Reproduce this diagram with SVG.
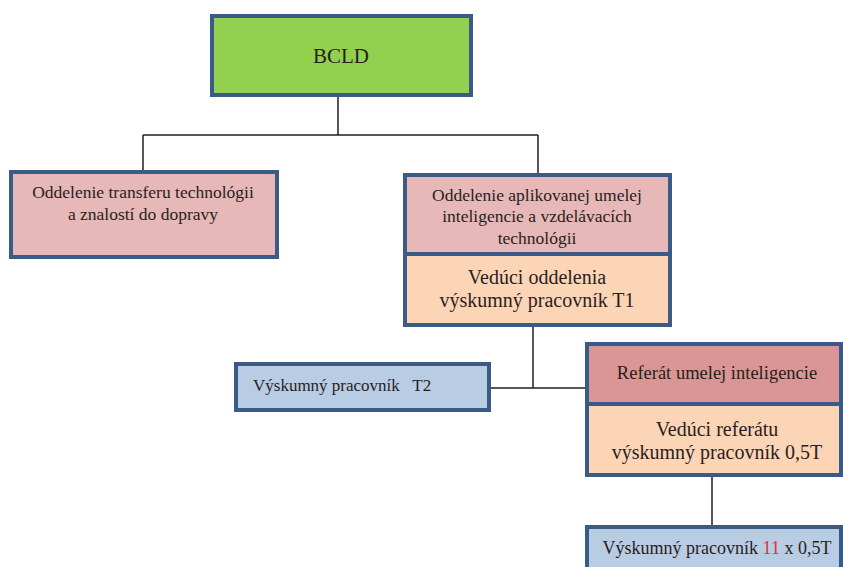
<svg xmlns="http://www.w3.org/2000/svg" width="843" height="567" viewBox="0 0 843 567">
<style>
.box{stroke:#3a5b88;stroke-width:4}
.green{fill:#92d050}
.pink{fill:#e6b8b7}
.salmon{fill:#d99694}
.peach{fill:#fbd5b5}
.blue{fill:#b8cce4}
.t{font-family:"Liberation Serif","DejaVu Serif",serif;fill:#2b1d1d}
.c{text-anchor:middle}
.conn line{stroke:#1f1f1f;stroke-width:1.5}
</style>
<rect width="843" height="567" fill="#ffffff"/>
<g class="conn" id="connectors">
<line x1="338" y1="97" x2="338" y2="135"/>
<line x1="143" y1="135" x2="538" y2="135"/>
<line x1="143" y1="135" x2="143" y2="170"/>
<line x1="538" y1="135" x2="538" y2="173"/>
<line x1="533" y1="327" x2="533" y2="388"/>
<line x1="491" y1="388" x2="585" y2="388"/>
<line x1="712" y1="477" x2="712" y2="525"/>
</g>
<g id="bcld">
<rect class="box green" x="212" y="16" width="259" height="79"/>
<text class="t c" x="341" y="63" font-size="21">BCLD</text>
</g>
<g id="transfer">
<rect class="box pink" x="11" y="172" width="266" height="85"/>
<text class="t c" x="143" y="198" font-size="17.5">Oddelenie transferu technológii</text>
<text class="t c" x="143" y="220" font-size="17.5">a znalostí do dopravy</text>
</g>
<g id="ai-dept">
<rect class="box pink" x="405" y="175" width="265" height="79"/>
<rect class="box peach" x="405" y="254" width="265" height="71"/>
<text class="t c" x="537" y="201" font-size="17.5">Oddelenie aplikovanej umelej</text>
<text class="t c" x="537" y="222" font-size="17.5">inteligencie a vzdelávacích</text>
<text class="t c" x="537" y="244" font-size="17.5">technológii</text>
<text class="t c" x="537" y="284" font-size="20">Vedúci oddelenia</text>
<text class="t c" x="537" y="307" font-size="20">výskumný pracovník T1</text>
</g>
<g id="t2">
<rect class="box blue" x="236" y="364" width="253" height="46"/>
<text class="t" x="253" y="391" font-size="17" xml:space="preserve">Výskumný pracovník   T2</text>
</g>
<g id="referat">
<rect class="box salmon" x="587" y="344" width="254" height="60"/>
<rect class="box peach" x="587" y="404" width="254" height="71"/>
<text class="t c" x="717" y="379" font-size="18.5">Referát umelej inteligencie</text>
<text class="t c" x="717" y="436" font-size="20">Vedúci referátu</text>
<text class="t c" x="717" y="459" font-size="20">výskumný pracovník 0,5T</text>
</g>
<g id="researchers">
<rect class="box blue" x="587" y="527" width="254" height="50"/>
<text class="t c" x="717" y="554" font-size="18">Výskumný pracovník <tspan fill="#e0303a">11</tspan> x 0,5T</text>
</g>
</svg>
